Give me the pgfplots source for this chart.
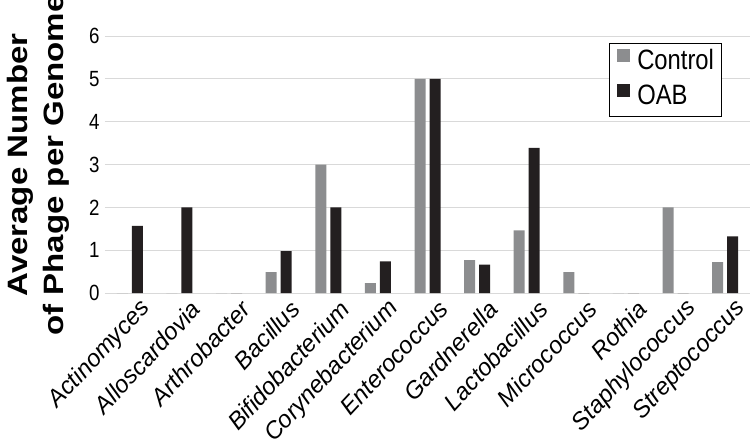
\documentclass[border=0pt]{standalone}
\usepackage{fontspec}
\setmainfont{Liberation Sans}
\newfontfamily\narrowfont{Liberation Sans}[FakeStretch=0.85]
\newfontfamily\widefont{Liberation Sans}[FakeStretch=1.18]
\usepackage{pgfplots}
\pgfplotsset{compat=1.18}

\definecolor{ctrlgray}{RGB}{140,141,143}
\definecolor{oabblack}{RGB}{35,31,32}
\definecolor{gridgray}{RGB}{217,217,217}

\begin{document}
\begin{tikzpicture}
\begin{axis}[
  at={(105pt,152pt)}, anchor=south west,
  scale only axis,
  width=645pt, height=257pt,
  ybar=4pt, bar width=11pt,
  xmin=-0.5, xmax=12.5,
  ymin=0, ymax=6,
  ytick={0,...,6},
  xtick={0,...,12},
  xticklabels={Actinomyces,Alloscardovia,Arthrobacter,Bacillus,Bifidobacterium,Corynebacterium,Enterococcus,Gardnerella,Lactobacillus,Micrococcus,Rothia,Staphylococcus,Streptococcus},
  axis line style={draw=none},
  major tick length=0pt,
  ymajorgrids, grid style={gridgray, line width=1pt},
  /pgf/number format/assume math mode=true,
  yticklabel style={font=\narrowfont\fontsize{22}{24}\selectfont, xshift=-2pt},
  xticklabel style={font=\fontsize{24}{28}\selectfont\itshape, rotate=47, anchor=east, xshift=6pt, yshift=-20pt},
  ylabel={Average Number\\of Phage per Genome},
  ylabel style={font=\widefont\fontsize{28}{36}\selectfont\bfseries, align=center,
    at={(axis description cs:-0.104,0.498)}, anchor=center},
  legend style={at={(0.781,0.973)}, anchor=north west, draw=black, line width=1pt,
    font=\narrowfont\fontsize{28}{34}\selectfont, inner xsep=8pt, inner ysep=6pt,
    nodes={inner sep=0pt, text height=20pt, text depth=6pt},
    row sep=9pt,
    /tikz/every odd column/.append style={column sep=7pt}},
  legend cell align=left,
  legend image code/.code={\fill[#1] (0pt,0pt) rectangle (13pt,13pt);},
]
\addplot[fill=ctrlgray, draw=none] coordinates {
  (0,0) (1,0) (2,0) (3,0.49) (4,3.0) (5,0.23) (6,5.0) (7,0.77) (8,1.46) (9,0.49) (10,0) (11,2.0) (12,0.72)
};
\addlegendentry{Control}
\addplot[fill=oabblack, draw=none] coordinates {
  (0,1.57) (1,2.0) (2,0) (3,0.98) (4,2.0) (5,0.74) (6,5.0) (7,0.66) (8,3.39) (9,0) (10,0) (11,0) (12,1.32)
};
\addlegendentry{OAB}
\end{axis}
\pgfresetboundingbox
\useasboundingbox (0,0) rectangle (750pt,445pt);
\end{tikzpicture}
\end{document}
